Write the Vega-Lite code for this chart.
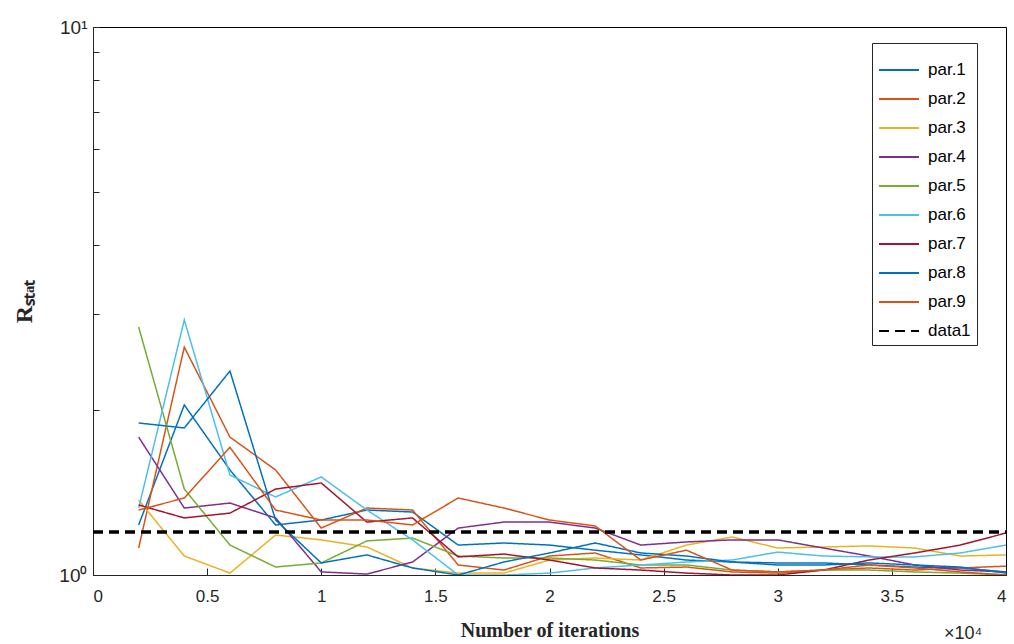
{
  "$schema": "https://vega.github.io/schema/vega-lite/v6.json",
  "width": 913,
  "height": 548,
  "autosize": "none",
  "padding": {"left": 93, "top": 27, "right": 8, "bottom": 69},
  "background": "white",
  "config": {
    "view": {"stroke": "black", "strokeWidth": 1},
    "font": "Liberation Sans"
  },
  "data": {"values": [
    {"s":"par.1","x":2000,"v":1.234},{"s":"par.1","x":4000,"v":2.043},{"s":"par.1","x":6000,"v":1.555},{"s":"par.1","x":8000,"v":1.234},{"s":"par.1","x":10000,"v":1.26},{"s":"par.1","x":12000,"v":1.314},{"s":"par.1","x":14000,"v":1.303},{"s":"par.1","x":16000,"v":1.134},{"s":"par.1","x":18000,"v":1.144},{"s":"par.1","x":20000,"v":1.134},{"s":"par.1","x":22000,"v":1.110},{"s":"par.1","x":24000,"v":1.088},{"s":"par.1","x":26000,"v":1.065},{"s":"par.1","x":28000,"v":1.056},{"s":"par.1","x":30000,"v":1.052},{"s":"par.1","x":32000,"v":1.052},{"s":"par.1","x":34000,"v":1.043},{"s":"par.1","x":36000,"v":1.034},{"s":"par.1","x":38000,"v":1.030},{"s":"par.1","x":40000,"v":1.013},
    {"s":"par.2","x":2000,"v":1.120},{"s":"par.2","x":4000,"v":2.605},{"s":"par.2","x":6000,"v":1.785},{"s":"par.2","x":8000,"v":1.555},{"s":"par.2","x":10000,"v":1.218},{"s":"par.2","x":12000,"v":1.325},{"s":"par.2","x":14000,"v":1.314},{"s":"par.2","x":16000,"v":1.043},{"s":"par.2","x":18000,"v":1.021},{"s":"par.2","x":20000,"v":1.083},{"s":"par.2","x":22000,"v":1.097},{"s":"par.2","x":24000,"v":1.030},{"s":"par.2","x":26000,"v":1.034},{"s":"par.2","x":28000,"v":1.013},{"s":"par.2","x":30000,"v":1.008},{"s":"par.2","x":32000,"v":1.021},{"s":"par.2","x":34000,"v":1.030},{"s":"par.2","x":36000,"v":1.021},{"s":"par.2","x":38000,"v":1.030},{"s":"par.2","x":40000,"v":1.038},
    {"s":"par.3","x":2000,"v":1.370},{"s":"par.3","x":4000,"v":1.083},{"s":"par.3","x":6000,"v":1.008},{"s":"par.3","x":8000,"v":1.183},{"s":"par.3","x":10000,"v":1.159},{"s":"par.3","x":12000,"v":1.125},{"s":"par.3","x":14000,"v":1.030},{"s":"par.3","x":16000,"v":1.008},{"s":"par.3","x":18000,"v":1.008},{"s":"par.3","x":20000,"v":1.065},{"s":"par.3","x":22000,"v":1.074},{"s":"par.3","x":24000,"v":1.065},{"s":"par.3","x":26000,"v":1.134},{"s":"par.3","x":28000,"v":1.173},{"s":"par.3","x":30000,"v":1.120},{"s":"par.3","x":32000,"v":1.125},{"s":"par.3","x":34000,"v":1.13},{"s":"par.3","x":36000,"v":1.120},{"s":"par.3","x":38000,"v":1.083},{"s":"par.3","x":40000,"v":1.088},
    {"s":"par.4","x":2000,"v":1.785},{"s":"par.4","x":4000,"v":1.325},{"s":"par.4","x":6000,"v":1.353},{"s":"par.4","x":8000,"v":1.271},{"s":"par.4","x":10000,"v":1.013},{"s":"par.4","x":12000,"v":1.004},{"s":"par.4","x":14000,"v":1.056},{"s":"par.4","x":16000,"v":1.218},{"s":"par.4","x":18000,"v":1.249},{"s":"par.4","x":20000,"v":1.249},{"s":"par.4","x":22000,"v":1.218},{"s":"par.4","x":24000,"v":1.134},{"s":"par.4","x":26000,"v":1.149},{"s":"par.4","x":28000,"v":1.159},{"s":"par.4","x":30000,"v":1.159},{"s":"par.4","x":32000,"v":1.120},{"s":"par.4","x":34000,"v":1.083},{"s":"par.4","x":36000,"v":1.043},{"s":"par.4","x":38000,"v":1.021},{"s":"par.4","x":40000,"v":1.013},
    {"s":"par.5","x":2000,"v":2.835},{"s":"par.5","x":4000,"v":1.435},{"s":"par.5","x":6000,"v":1.134},{"s":"par.5","x":8000,"v":1.034},{"s":"par.5","x":10000,"v":1.052},{"s":"par.5","x":12000,"v":1.154},{"s":"par.5","x":14000,"v":1.168},{"s":"par.5","x":16000,"v":1.083},{"s":"par.5","x":18000,"v":1.074},{"s":"par.5","x":20000,"v":1.074},{"s":"par.5","x":22000,"v":1.065},{"s":"par.5","x":24000,"v":1.043},{"s":"par.5","x":26000,"v":1.043},{"s":"par.5","x":28000,"v":1.021},{"s":"par.5","x":30000,"v":1.013},{"s":"par.5","x":32000,"v":1.021},{"s":"par.5","x":34000,"v":1.021},{"s":"par.5","x":36000,"v":1.013},{"s":"par.5","x":38000,"v":1.008},{"s":"par.5","x":40000,"v":1.0},
    {"s":"par.6","x":2000,"v":1.325},{"s":"par.6","x":4000,"v":2.921},{"s":"par.6","x":6000,"v":1.522},{"s":"par.6","x":8000,"v":1.388},{"s":"par.6","x":10000,"v":1.51},{"s":"par.6","x":12000,"v":1.314},{"s":"par.6","x":14000,"v":1.159},{"s":"par.6","x":16000,"v":1.0},{"s":"par.6","x":18000,"v":1.0},{"s":"par.6","x":20000,"v":1.008},{"s":"par.6","x":22000,"v":1.030},{"s":"par.6","x":24000,"v":1.043},{"s":"par.6","x":26000,"v":1.056},{"s":"par.6","x":28000,"v":1.065},{"s":"par.6","x":30000,"v":1.101},{"s":"par.6","x":32000,"v":1.083},{"s":"par.6","x":34000,"v":1.079},{"s":"par.6","x":36000,"v":1.079},{"s":"par.6","x":38000,"v":1.097},{"s":"par.6","x":40000,"v":1.134},
    {"s":"par.7","x":2000,"v":1.342},{"s":"par.7","x":4000,"v":1.271},{"s":"par.7","x":6000,"v":1.297},{"s":"par.7","x":8000,"v":1.435},{"s":"par.7","x":10000,"v":1.472},{"s":"par.7","x":12000,"v":1.249},{"s":"par.7","x":14000,"v":1.271},{"s":"par.7","x":16000,"v":1.079},{"s":"par.7","x":18000,"v":1.092},{"s":"par.7","x":20000,"v":1.065},{"s":"par.7","x":22000,"v":1.030},{"s":"par.7","x":24000,"v":1.021},{"s":"par.7","x":26000,"v":1.008},{"s":"par.7","x":28000,"v":1.0},{"s":"par.7","x":30000,"v":1.0},{"s":"par.7","x":32000,"v":1.021},{"s":"par.7","x":34000,"v":1.065},{"s":"par.7","x":36000,"v":1.097},{"s":"par.7","x":38000,"v":1.134},{"s":"par.7","x":40000,"v":1.193},
    {"s":"par.8","x":2000,"v":1.894},{"s":"par.8","x":4000,"v":1.855},{"s":"par.8","x":6000,"v":2.356},{"s":"par.8","x":8000,"v":1.26},{"s":"par.8","x":10000,"v":1.052},{"s":"par.8","x":12000,"v":1.088},{"s":"par.8","x":14000,"v":1.030},{"s":"par.8","x":16000,"v":1.0},{"s":"par.8","x":18000,"v":1.056},{"s":"par.8","x":20000,"v":1.097},{"s":"par.8","x":22000,"v":1.144},{"s":"par.8","x":24000,"v":1.097},{"s":"par.8","x":26000,"v":1.083},{"s":"par.8","x":28000,"v":1.056},{"s":"par.8","x":30000,"v":1.043},{"s":"par.8","x":32000,"v":1.043},{"s":"par.8","x":34000,"v":1.052},{"s":"par.8","x":36000,"v":1.043},{"s":"par.8","x":38000,"v":1.034},{"s":"par.8","x":40000,"v":1.008},
    {"s":"par.9","x":2000,"v":1.314},{"s":"par.9","x":4000,"v":1.382},{"s":"par.9","x":6000,"v":1.71},{"s":"par.9","x":8000,"v":1.314},{"s":"par.9","x":10000,"v":1.26},{"s":"par.9","x":12000,"v":1.26},{"s":"par.9","x":14000,"v":1.234},{"s":"par.9","x":16000,"v":1.382},{"s":"par.9","x":18000,"v":1.325},{"s":"par.9","x":20000,"v":1.26},{"s":"par.9","x":22000,"v":1.229},{"s":"par.9","x":24000,"v":1.065},{"s":"par.9","x":26000,"v":1.110},{"s":"par.9","x":28000,"v":1.021},{"s":"par.9","x":30000,"v":1.013},{"s":"par.9","x":32000,"v":1.021},{"s":"par.9","x":34000,"v":1.043},{"s":"par.9","x":36000,"v":1.030},{"s":"par.9","x":38000,"v":1.013},{"s":"par.9","x":40000,"v":1.0},
    {"s":"data1","x":0,"v":1.198},{"s":"data1","x":40000,"v":1.198}
  ]},
  "layer": [
    {
      "mark": {"type": "line", "clip": true},
      "encoding": {
        "x": {"field": "x", "type": "quantitative",
          "scale": {"domain": [0, 40000], "nice": false},
          "axis": {"values": [0,5000,10000,15000,20000,25000,30000,35000,40000],
            "labelExpr": "datum.value/10000", "title": "Number of iterations",
            "titleFont": "Liberation Serif", "titleFontSize": 20, "titleFontWeight": "bold",
            "titleColor": "#262626", "titlePadding": 16,
            "labelFontSize": 17, "labelColor": "#262626", "labelPadding": 20,
            "grid": false, "domainColor": "#262626", "tickColor": "#262626", "tickSize": -7}},
        "y": {"field": "v", "type": "quantitative",
          "scale": {"type": "log", "domain": [1, 10], "nice": false},
          "axis": {"values": [1,2,3,4,5,6,7,8,9,10],
            "labelExpr": "datum.value == 1 ? '10⁰' : (datum.value == 10 ? '10¹' : '')",
            "title": "Rₛₜₐₜ", "titleFont": "Liberation Serif", "titleFontSize": 24, "titleFontWeight": "bold",
            "titleColor": "#262626", "titlePadding": 22,
            "labelFontSize": 19, "labelColor": "#262626", "labelPadding": 12,
            "grid": false, "domainColor": "#262626", "tickColor": "#262626", "tickSize": -6}},
        "color": {"field": "s", "type": "nominal",
          "scale": {"domain": ["par.1","par.2","par.3","par.4","par.5","par.6","par.7","par.8","par.9","data1"],
            "range": ["#0072BD","#D95319","#EDB120","#7E2F8E","#77AC30","#4DBEEE","#A2142F","#0072BD","#D95319","#000000"]},
          "legend": {"title": null, "orient": "none", "legendX": 779, "legendY": 16,
            "symbolType": "stroke", "symbolSize": 1600, "symbolStrokeWidth": 2,
            "labelFontSize": 17, "labelColor": "#000000", "rowPadding": 0, "labelOffset": 8,
            "strokeColor": "#262626", "fillColor": "white", "padding": 6}},
        "strokeDash": {"field": "s", "type": "nominal",
          "scale": {"domain": ["par.1","par.2","par.3","par.4","par.5","par.6","par.7","par.8","par.9","data1"],
            "range": [[1,0],[1,0],[1,0],[1,0],[1,0],[1,0],[1,0],[1,0],[1,0],[10,6]]},
          "legend": {"title": null}},
        "strokeWidth": {"condition": {"test": "datum.s == 'data1'", "value": 3.5}, "value": 1.5}
      }
    },
    {
      "data": {"values": [{"x": 40000, "v": 1}]},
      "mark": {"type": "text", "text": "×10⁴", "fontSize": 18, "color": "#262626", "align": "left", "baseline": "top", "dx": -62, "dy": 50},
      "encoding": {
        "x": {"field": "x", "type": "quantitative"},
        "y": {"field": "v", "type": "quantitative"}
      }
    }
  ]
}
